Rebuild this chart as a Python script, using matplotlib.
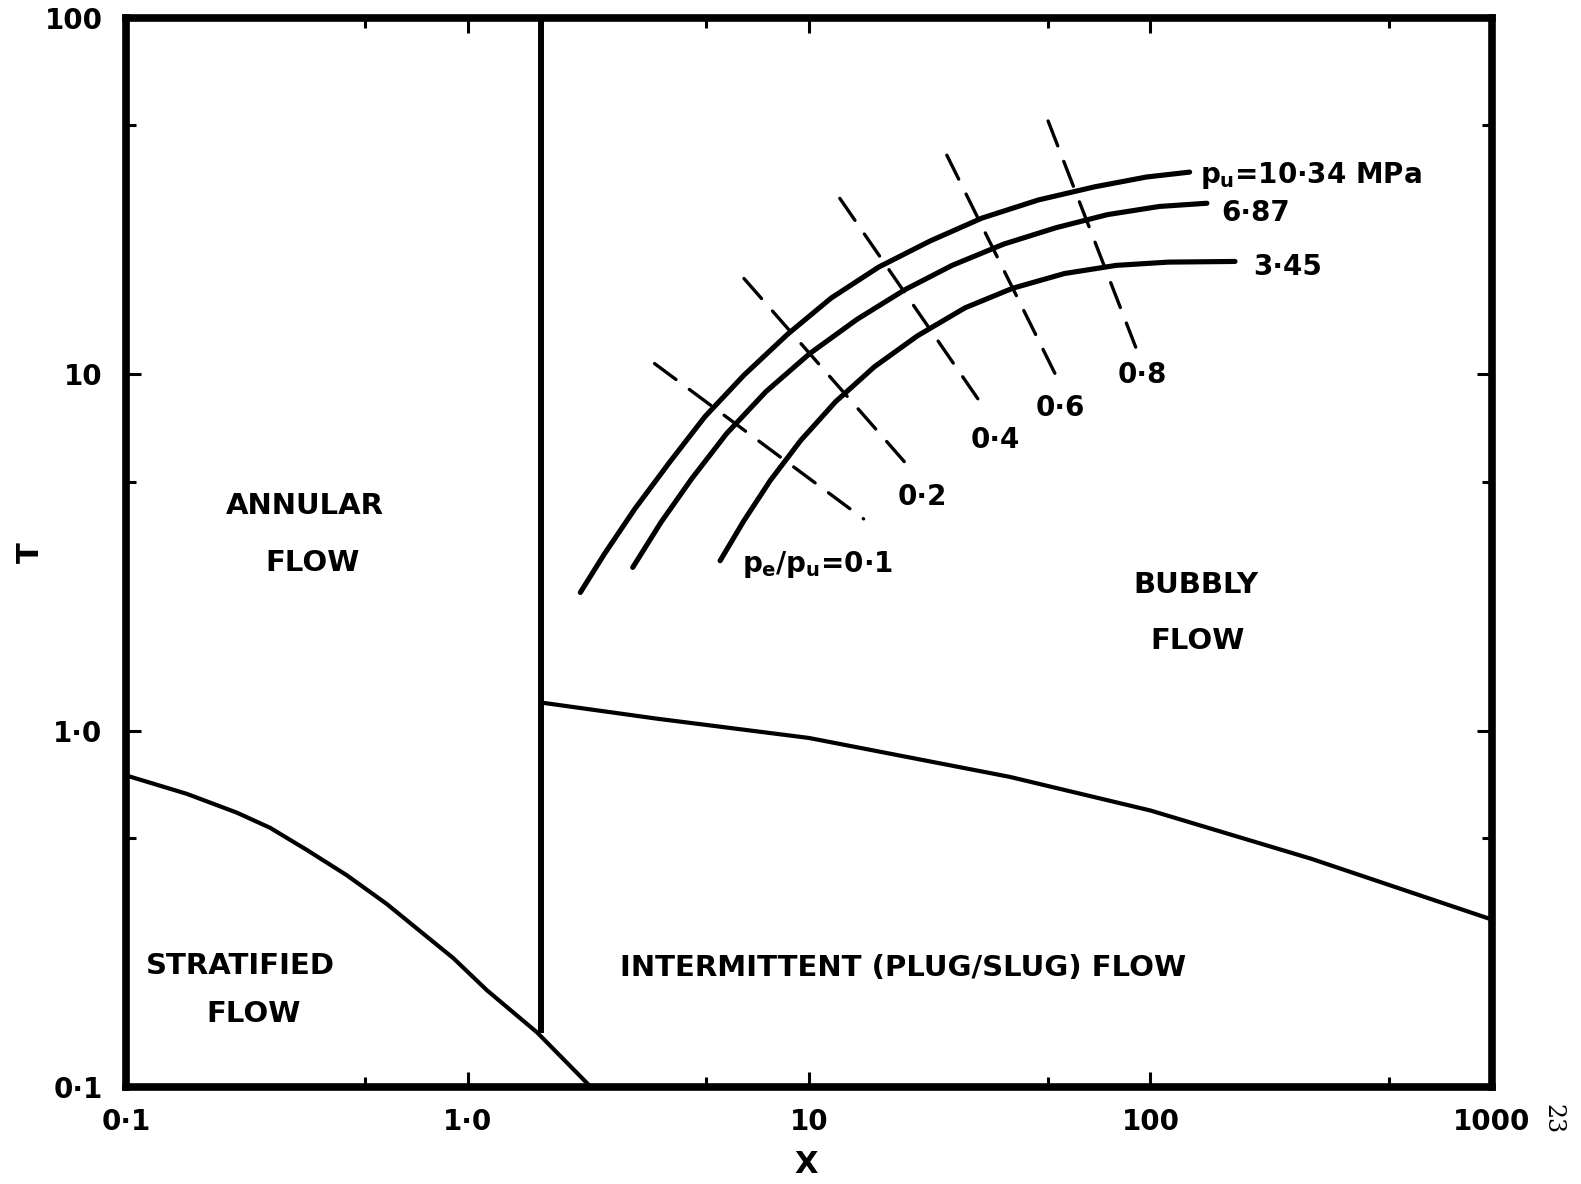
import matplotlib
matplotlib.use("Agg")
import matplotlib.pyplot as plt
from matplotlib.ticker import LogLocator, NullFormatter, FixedLocator, FixedFormatter

plt.rcParams['font.family'] = ['DejaVu Sans']
plt.rcParams['font.weight'] = 'bold'
plt.rcParams['mathtext.fontset'] = 'custom'
plt.rcParams['mathtext.rm'] = 'DejaVu Sans:bold'
plt.rcParams['mathtext.it'] = 'DejaVu Sans:bold'
plt.rcParams['mathtext.bf'] = 'DejaVu Sans:bold'

# ---------------- data ----------------
# flow regime boundaries
strat_x = [0.1, 0.1506, 0.2110, 0.2641, 0.3381, 0.4430, 0.5799, 0.7258, 0.9087, 1.139, 1.600, 2.297]
strat_y = [0.749, 0.665, 0.589, 0.534, 0.463, 0.393, 0.3265, 0.274, 0.230, 0.187, 0.1422, 0.1]

annular_x = [1.636, 1.636]
annular_y = [0.1422, 100]

bubbly_x = [1.636, 3.58, 10, 38.7, 100, 295.8, 1000]
bubbly_y = [1.2, 1.081, 0.954, 0.742, 0.597, 0.437, 0.295]

# constant upstream pressure curves (pu = 10.34, 6.87, 3.45 MPa)
p1034_x = [2.140, 2.516, 3.091, 3.912, 4.953, 6.452, 8.664, 11.61, 16.00, 22.69, 32.17, 46.97, 68.61, 97.3, 130.2]
p1034_y = [2.443, 3.131, 4.194, 5.677, 7.600, 9.95, 12.97, 16.37, 20.00, 23.70, 27.47, 30.86, 33.59, 35.79, 36.94]

p687_x = [3.047, 3.688, 4.533, 5.739, 7.477, 10.04, 13.83, 19.05, 26.25, 37.22, 52.8, 74.85, 106.2, 146.3]
p687_y = [2.872, 3.847, 5.093, 6.822, 8.94, 11.43, 14.27, 17.26, 20.22, 23.21, 25.78, 28.07, 29.59, 30.21]

p345_x = [5.492, 6.452, 7.704, 9.464, 11.96, 15.54, 20.79, 28.64, 39.47, 55.94, 79.36, 112.6, 176.8]
p345_y = [2.999, 3.888, 5.038, 6.530, 8.377, 10.50, 12.83, 15.37, 17.44, 19.18, 20.22, 20.65, 20.74]

# constant pressure ratio pe/pu lines (start, end)
ratio_labels = ['0·1', '0·2', '0·4', '0·6', '0·8']
ratio_x = [[3.53, 14.45], [6.45, 19.61], [12.31, 32.66], [25.33, 52.8], [50.14, 90.5]]
ratio_y = [[10.72, 3.93], [18.58, 5.50], [31.18, 8.02], [41.2, 9.95], [51.4, 11.92]]

xticks = [0.1, 1.0, 10, 100, 1000]
xticklabels = ['0·1', '1·0', '10', '100', '1000']
yticks = [0.1, 1.0, 10, 100]
yticklabels = ['0·1', '1·0', '10', '100']

# ---------------- figure ----------------
fig = plt.figure(figsize=(15.81, 11.84), dpi=100)
ax = fig.add_axes([0.0797, 0.0819, 0.864, 0.9029])
ax.set_xscale('log')
ax.set_yscale('log')
ax.set_xlim(0.1, 1000)
ax.set_ylim(0.1, 100)

for s in ax.spines.values():
    s.set_linewidth(5.5)
    s.set_capstyle('projecting')

ax.xaxis.set_major_locator(FixedLocator(xticks))
ax.xaxis.set_major_formatter(FixedFormatter(xticklabels))
ax.yaxis.set_major_locator(FixedLocator(yticks))
ax.yaxis.set_major_formatter(FixedFormatter(yticklabels))
ax.xaxis.set_minor_locator(LogLocator(base=10, subs=[5]))
ax.yaxis.set_minor_locator(LogLocator(base=10, subs=[5]))
ax.xaxis.set_minor_formatter(NullFormatter())
ax.yaxis.set_minor_formatter(NullFormatter())
ax.tick_params(which='both', direction='in', top=True, right=True, width=2.2, color='black')
ax.tick_params(which='major', length=11)
ax.tick_params(which='minor', length=7)
ax.tick_params(axis='x', which='major', pad=15, labelsize=20)
ax.tick_params(axis='y', which='major', pad=17, labelsize=20)

k = 'black'
ax.plot(strat_x, strat_y, color=k, lw=3.0, solid_capstyle='butt', solid_joinstyle='round')
ax.plot(annular_x, annular_y, color=k, lw=4.3, solid_capstyle='butt')
ax.plot(bubbly_x, bubbly_y, color=k, lw=3.0, solid_capstyle='butt', solid_joinstyle='round')
for xs, ys in [(p1034_x, p1034_y), (p687_x, p687_y), (p345_x, p345_y)]:
    ax.plot(xs, ys, color=k, lw=3.7, solid_capstyle='round', solid_joinstyle='round')
for xs, ys in zip(ratio_x, ratio_y):
    ax.plot(xs, ys, color=k, lw=2.4, dashes=(8, 5), dash_capstyle='round')

# region labels
rs = 21
ax.text(0.333, 4.28, 'ANNULAR', fontsize=rs, ha='center', va='center')
ax.text(0.352, 2.95, 'FLOW', fontsize=rs, ha='center', va='center')
ax.text(0.2158, 0.218, 'STRATIFIED', fontsize=rs, ha='center', va='center')
ax.text(0.236, 0.1605, 'FLOW', fontsize=rs, ha='center', va='center')
ax.text(18.9, 0.2155, 'INTERMITTENT (PLUG/SLUG) FLOW', fontsize=rs, ha='center', va='center')
ax.text(135.6, 2.565, 'BUBBLY', fontsize=rs, ha='center', va='center')
ax.text(137.5, 1.79, 'FLOW', fontsize=rs, ha='center', va='center')

# curve labels
ls = 20
ax.text(139.5, 34.4, r'$p_u$=10·34 MPa', fontsize=ls, ha='left', va='baseline')
ax.text(160.6, 27.0, '6·87', fontsize=ls, ha='left', va='baseline')
ax.text(200.1, 19.0, '3·45', fontsize=ls, ha='left', va='baseline')
ax.text(94.5, 9.98, ratio_labels[4], fontsize=ls, ha='center', va='center')
ax.text(54.4, 8.05, ratio_labels[3], fontsize=ls, ha='center', va='center')
ax.text(35.1, 6.53, ratio_labels[2], fontsize=ls, ha='center', va='center')
ax.text(21.4, 4.54, ratio_labels[1], fontsize=ls, ha='center', va='center')
ax.text(6.36, 2.78, r'$p_e/p_u$=' + ratio_labels[0], fontsize=ls, ha='left', va='baseline')

ax.set_xlabel('X', fontsize=22, fontweight='bold')
ax.set_ylabel('T', fontsize=22, fontweight='bold')
ax.xaxis.set_label_coords(0.498, -0.0726)
ax.xaxis.label.set_va('center')
ax.yaxis.set_label_coords(-0.0703, 0.4995)
ax.yaxis.label.set_va('center')

fig.text(0.982, 0.055, '23', fontsize=17, fontweight='normal', rotation=-90,
         ha='center', va='center', family=['DejaVu Serif'])

fig.savefig('out.png', dpi=100)
